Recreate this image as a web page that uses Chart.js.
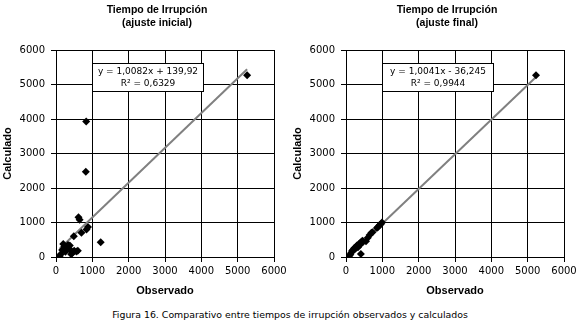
<!DOCTYPE html>
<html>
<head>
<meta charset="utf-8">
<script src="https://cdn.jsdelivr.net/npm/chart.js@4.4.1/dist/chart.umd.min.js"></script>
<style>
    body { margin: 0; background: #fff; width: 580px; height: 331px; position: relative; overflow: hidden; }
    .wrap { position: absolute; top: 0; width: 290px; height: 305px; }
    #caption { position: absolute; left: 0; top: 309px; width: 580px; text-align: center;
               font: 9.4px "DejaVu Sans", sans-serif; color: #000; }
</style>
</head>
<body>
<div class="wrap" style="left:0"><canvas id="chartInicial"></canvas></div>
<div class="wrap" style="left:290px"><canvas id="chartFinal"></canvas></div>
<div id="caption">Figura 16. Comparativo entre tiempos de irrupción observados y calculados</div>

<script>
// Datos (observado, calculado)
const obsInicial  = [105, 130, 170, 200, 230, 260, 300, 330, 380, 400, 420, 450, 500, 490, 560, 600, 620, 650, 700, 840, 880, 830, 820, 1230, 5260];
const calcInicial = [ 30,  80, 200, 380, 300, 150, 250, 350, 330, 200,  80, 120, 180, 600, 160, 180, 1150, 1080, 700, 800, 870, 3930, 2470, 430, 5270];

const obsFinal  = [100, 120, 150, 170, 200, 230, 260, 280, 300, 330, 350, 380, 400, 420, 450, 480, 410, 550, 600, 650, 700, 730, 850, 880, 920, 960, 990, 5230];
const calcFinal = [ 40,  80, 130, 180, 220, 260, 240, 300, 330, 280, 370, 350, 420, 400, 470, 450,  90, 460, 560, 640, 700, 720, 840, 870, 920, 960, 1000, 5270];

// Lineas de tendencia (extremos)
const trendInicialX = [100, 5260];
const trendInicialY = [241, 5443];
const trendFinalX = [100, 5230];
const trendFinalY = [64, 5215];

const axisTicks = [0, 1000, 2000, 3000, 4000, 5000, 6000];

const eqInicial = ["y = 1,0082x + 139,92", "R² = 0,6329"];
const eqFinal = ["y = 1,0041x - 36,245", "R² = 0,9944"];

const titleInicial = ["Tiempo de Irrupción", "(ajuste inicial)"];
const titleFinal = ["Tiempo de Irrupción", "(ajuste final)"];

const boldFont = "'Liberation Sans Narrow', 'Liberation Sans', sans-serif";
const tickFont = "'DejaVu Sans', sans-serif";

const chartHeading = {
    id: "chartHeading",
    afterDraw(chart, args, opts) {
        const { ctx, chartArea } = chart;
        ctx.save();
        ctx.fillStyle = "#000";
        ctx.textAlign = "center";
        ctx.textBaseline = "middle";
        ctx.font = `bold 10.5px ${boldFont}`;
        opts.lines.forEach((t, i) => ctx.fillText(t, opts.x, 10 + i * 13));

        // cuadro de la ecuacion
        const bx = chartArea.left + 36.5, by = chartArea.top + 13.5, bw = 111, bh = 28;
        ctx.fillStyle = "#fff";
        ctx.fillRect(bx, by, bw, bh);
        ctx.strokeStyle = "#000";
        ctx.lineWidth = 1;
        ctx.strokeRect(bx, by, bw, bh);
        ctx.fillStyle = "#000";
        ctx.font = `9px ${tickFont}`;
        ctx.fillText(opts.eq[0], bx + bw / 2, by + 8);
        ctx.fillText(opts.eq[1], bx + bw / 2, by + 20);
        ctx.restore();
    }
};

function makeScatter(canvasId, obs, calc, tx, ty, title, eq) {
    const points = obs.map((x, i) => ({ x: x, y: calc[i] }));
    const trend = tx.map((x, i) => ({ x: x, y: ty[i] }));

    const axis = (label, isX) => ({
        type: "linear",
        min: 0,
        max: 6000,
        afterBuildTicks: s => { s.ticks = axisTicks.map(v => ({ value: v })); },
        afterFit: s => { if (isX) s.height = 48; else s.width = 56; },
        grid: { color: "#000", lineWidth: 1, tickLength: 5 },
        border: { color: "#000" },
        ticks: {
            color: "#000", font: { family: tickFont, size: 10 }, padding: isX ? 3 : 6, maxRotation: 0,
            callback: v => String(v)
        },
        title: {
            display: true, text: label, color: "#000",
            font: { family: boldFont, size: 11, weight: "bold" },
            padding: isX ? { bottom: 7 } : { top: 1 }
        }
    });

    new Chart(document.getElementById(canvasId), {
        type: "scatter",
        plugins: [chartHeading],
        data: {
            datasets: [
                {
                    data: points,
                    pointStyle: "rectRot",
                    pointRadius: 4,
                    pointHoverRadius: 4,
                    backgroundColor: "#000",
                    borderColor: "#000",
                    borderWidth: 0
                },
                {
                    type: "line",
                    data: trend,
                    borderColor: "#808080",
                    borderWidth: 2,
                    pointRadius: 0,
                    fill: false
                }
            ]
        },
        options: {
            responsive: false,
            animation: false,
            events: [],
            layout: { padding: { top: 50, right: 16, left: 0, bottom: 0 } },
            scales: {
                x: axis("Observado", true),
                y: axis("Calculado", false)
            },
            plugins: {
                legend: { display: false },
                tooltip: { enabled: false },
                chartHeading: { lines: title, x: 157, eq: eq }
            }
        }
    });
}

for (const id of ["chartInicial", "chartFinal"]) {
    const c = document.getElementById(id);
    c.width = 290; c.height = 305;
}

makeScatter("chartInicial", obsInicial, calcInicial, trendInicialX, trendInicialY, titleInicial, eqInicial);
makeScatter("chartFinal", obsFinal, calcFinal, trendFinalX, trendFinalY, titleFinal, eqFinal);
</script>
</body>
</html>
